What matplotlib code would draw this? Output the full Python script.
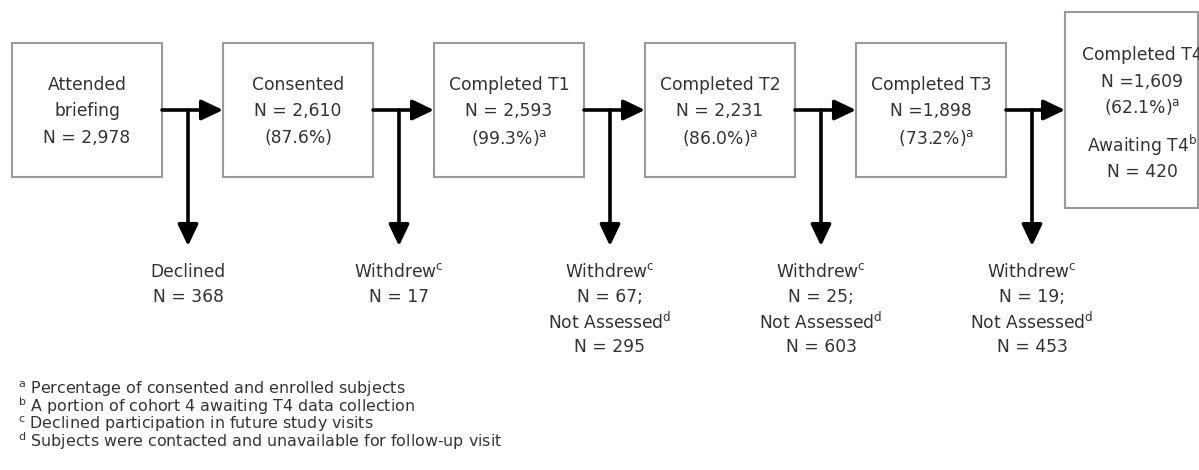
import matplotlib.pyplot as plt
from matplotlib.patches import Rectangle

plt.rcParams['font.family'] = ['DejaVu Sans']
plt.rcParams['mathtext.fontset'] = 'dejavusans'

# stage boxes (main row)
stage_lines = [
    ["Attended", "briefing", "N = 2,978"],
    ["Consented", "N = 2,610", "(87.6%)"],
    ["Completed T1", "N = 2,593", r"(99.3%)$^{\mathrm{a}}$"],
    ["Completed T2", "N = 2,231", r"(86.0%)$^{\mathrm{a}}$"],
    ["Completed T3", "N =1,898", r"  (73.2%)$^{\mathrm{a}}$"],
]
last_lines = ["Completed T4", "N =1,609", r"(62.1%)$^{\mathrm{a}}$",
              r"Awaiting T4$^{\mathrm{b}}$", "N = 420"]

# drop-outs below each step
drop_lines = [
    ["Declined", "N = 368"],
    [r"Withdrew$^{\mathrm{c}}$", "N = 17"],
    [r"Withdrew$^{\mathrm{c}}$", "N = 67;", r"Not Assessed$^{\mathrm{d}}$", "N = 295"],
    [r"Withdrew$^{\mathrm{c}}$", "N = 25;", r"Not Assessed$^{\mathrm{d}}$", "N = 603"],
    [r"Withdrew$^{\mathrm{c}}$", "N = 19;", r"Not Assessed$^{\mathrm{d}}$", "N = 453"],
]

footnotes = [
    ("a", "Percentage of consented and enrolled subjects"),
    ("b", "A portion of cohort 4 awaiting T4 data collection"),
    ("c", "Declined participation in future study visits"),
    ("d", "Subjects were contacted and unavailable for follow-up visit"),
]

W, H = 1199, 470
fig = plt.figure(figsize=(W / 100, H / 100), dpi=100)
ax = fig.add_axes([0, 0, 1, 1])
ax.set_xlim(0, W)
ax.set_ylim(H, 0)
ax.axis('off')

box_w, box_h = 150, 134
box_top = 43
step = 211
x0 = 12
arrow_y = 110
txt_col = '#333333'
edge_col = '#9a9a9a'
fs = 12.3
astyle = '-|>,head_length=1.3,head_width=0.62'

for i, lines in enumerate(stage_lines):
    bx = x0 + i * step
    ax.add_patch(Rectangle((bx, box_top), box_w, box_h, fill=False,
                           edgecolor=edge_col, lw=1.5))
    for j, s in enumerate(lines):
        ax.text(bx + box_w / 2, 85 + j * 26.5, s, ha='center', va='center',
                fontsize=fs, color=txt_col)

# last box, cut off at right side
bx6 = x0 + 5 * step - 2
ax.add_patch(Rectangle((bx6, 12), 133, 196, fill=False,
                       edgecolor=edge_col, lw=1.5, clip_on=False))
last_y = [55, 82, 107, 145, 172]
for s, yy in zip(last_lines, last_y):
    ax.text(1142, yy, s, ha='center', va='center', fontsize=fs, color=txt_col)

# arrows
for i in range(5):
    right = x0 + i * step + box_w
    nxt = x0 + (i + 1) * step - (2 if i == 4 else 0)
    ax.annotate('', xy=(nxt, arrow_y), xytext=(right, arrow_y),
                arrowprops=dict(arrowstyle=astyle, color='black', lw=2.6,
                                shrinkA=0, shrinkB=0))
    vx = right + 26
    ax.annotate('', xy=(vx, 246), xytext=(vx, arrow_y),
                arrowprops=dict(arrowstyle=astyle, color='black', lw=2.6,
                                shrinkA=0, shrinkB=0))
    for j, s in enumerate(drop_lines[i]):
        ax.text(vx, 272 + j * 25, s, ha='center', va='center',
                fontsize=fs, color=txt_col)

note_text = "\n".join(r"$^{\mathrm{%s}}$ %s" % (sup, s) for sup, s in footnotes)
ax.text(18, 379, note_text, ha='left', va='top', fontsize=11.4,
        color=txt_col, linespacing=0.8)

fig.savefig('out.png', dpi=100)
